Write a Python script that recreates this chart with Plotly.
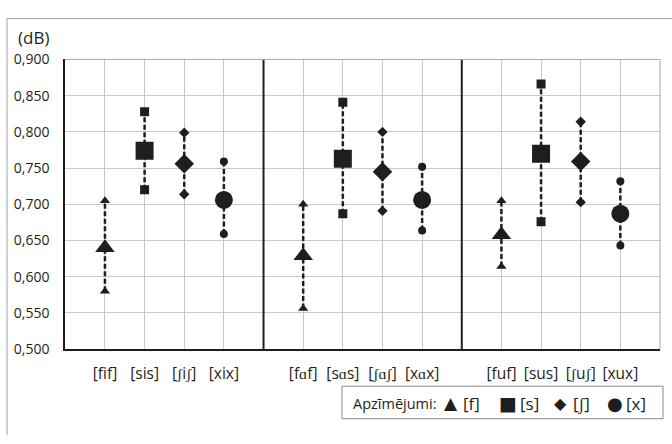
import plotly.graph_objects as go

# Figure size (px) and pixel layout helpers
W, H = 672, 444
PLOT_L, PLOT_R, PLOT_T, PLOT_B = 65.3, 660.0, 51.7, 354.3


def px(x):
    return x / W


def py(y):
    return 1 - y / H


# ---- data -------------------------------------------------------------
vowels = ["i", "ɑ", "u"]
consonants = ["f", "s", "ʃ", "x"]
consonant_labels = ["[f]", "[s]", "[ʃ]", "[x]"]

# mean / upper / lower values per consonant, one value per vowel group
mean_f = [0.640, 0.629, 0.658]
high_f = [0.705, 0.700, 0.705]
low_f = [0.580, 0.556, 0.614]

mean_s = [0.774, 0.763, 0.770]
high_s = [0.828, 0.841, 0.866]
low_s = [0.720, 0.687, 0.676]

mean_sh = [0.756, 0.745, 0.759]
high_sh = [0.799, 0.800, 0.814]
low_sh = [0.714, 0.691, 0.703]

mean_x = [0.706, 0.706, 0.687]
high_x = [0.759, 0.752, 0.732]
low_x = [0.659, 0.664, 0.643]

y_ticks = [0.50, 0.55, 0.60, 0.65, 0.70, 0.75, 0.80, 0.85, 0.90]

means = [mean_f, mean_s, mean_sh, mean_x]
highs = [high_f, high_s, high_sh, high_x]
lows = [low_f, low_s, low_sh, low_x]

symbols = ["triangle-up", "square", "diamond", "circle"]
big_sizes = [17, 18, 15, 18]
small_sizes = [9, 9, 8, 8]

INK = "#1e1e1e"
GRID = "#c9c9c9"
FONT = "Open Sans"

# x position of a consonant inside a vowel group: groups span 5 units
def xpos(g, k):
    return 5 * g + k + 1


fig = go.Figure()

tick_x, tick_text = [], []
for g, v in enumerate(vowels):
    for k, c in enumerate(consonants):
        tick_x.append(xpos(g, k))
        tick_text.append(f"[{c}{v}{c}]")

for k in range(4):
    xs_line, ys_line = [], []
    xs_end, ys_end = [], []
    xs_mid = []
    for g in range(3):
        x = xpos(g, k)
        xs_line += [x, x, None]
        ys_line += [lows[k][g], highs[k][g], None]
        xs_end += [x, x]
        ys_end += [lows[k][g], highs[k][g]]
        xs_mid.append(x)
    fig.add_trace(go.Scatter(
        x=xs_line, y=ys_line, mode="lines",
        line=dict(color=INK, width=2.5, dash="5px,2.5px"),
        showlegend=False, hoverinfo="skip"))
    fig.add_trace(go.Scatter(
        x=xs_end, y=ys_end, mode="markers",
        marker=dict(symbol=symbols[k], size=small_sizes[k], color=INK,
                    line=dict(width=0)),
        showlegend=False))
    fig.add_trace(go.Scatter(
        x=xs_mid, y=means[k], mode="markers", name=consonant_labels[k],
        marker=dict(symbol=symbols[k], size=big_sizes[k], color=INK,
                    line=dict(width=0)),
        showlegend=False))

shapes = []
# group dividers
for xd in [5, 10]:
    shapes.append(dict(type="line", xref="x", yref="y domain", x0=xd, x1=xd,
                       y0=0, y1=1, line=dict(color=INK, width=2)))
# top and right edges of the plot area
shapes.append(dict(type="line", xref="x domain", yref="y domain", x0=0, x1=1,
                   y0=1, y1=1, line=dict(color="#a8a8a8", width=1)))
shapes.append(dict(type="line", xref="x domain", yref="y domain", x0=1, x1=1,
                   y0=0, y1=1, line=dict(color="#a8a8a8", width=1)))
# outer chart frame (top and left)
shapes.append(dict(type="line", xref="paper", yref="paper", x0=px(7), x1=1,
                   y0=py(9), y1=py(9), line=dict(color="#a0a0a0", width=1)))
shapes.append(dict(type="line", xref="paper", yref="paper", x0=px(7), x1=px(7),
                   y0=py(9), y1=0, line=dict(color="#a0a0a0", width=1)))
# legend box
shapes.append(dict(type="rect", xref="paper", yref="paper",
                   x0=px(342), x1=px(663), y0=py(427), y1=py(393),
                   line=dict(color="#8a8a8a", width=1), fillcolor="white"))

annotations = [
    dict(text="(dB)", xref="paper", yref="paper", x=px(16), y=py(29),
         xanchor="left", yanchor="middle", showarrow=False,
         font=dict(family=FONT, size=17, color=INK)),
    dict(text="Apzīmējumi:", xref="paper", yref="paper", x=px(351), y=py(411),
         xanchor="left", yanchor="middle", showarrow=False,
         font=dict(family=FONT, size=14.5, color=INK)),
]
glyphs = ["▲", "■", "◆", "●"]
glyph_x = [451, 508, 560, 614.5]
glyph_sizes = [17, 19, 16, 18]
label_x = [461, 518, 571, 624]
for k in range(4):
    annotations.append(dict(text=glyphs[k], xref="paper", yref="paper",
                            x=px(glyph_x[k]), y=py(411), xanchor="center",
                            yanchor="middle", showarrow=False,
                            font=dict(family="DejaVu Sans", size=glyph_sizes[k],
                                      color=INK)))
    annotations.append(dict(text=consonant_labels[k], xref="paper", yref="paper",
                            x=px(label_x[k]), y=py(411), xanchor="left",
                            yanchor="middle", showarrow=False,
                            font=dict(family=FONT, size=17, color=INK)))

fig.update_layout(
    width=W, height=H, autosize=False,
    margin=dict(l=0, r=0, t=0, b=0, pad=0),
    paper_bgcolor="white", plot_bgcolor="white",
    separators=", ",
    font=dict(family=FONT, size=14, color=INK),
    showlegend=False,
    shapes=shapes,
    annotations=annotations,
    xaxis=dict(domain=[px(PLOT_L), px(PLOT_R)], range=[0, 15],
               tickvals=tick_x, ticktext=tick_text, showgrid=True,
               gridcolor=GRID, gridwidth=1, zeroline=False,
               showline=True, linecolor=INK, linewidth=2,
               ticks="", ticklabelstandoff=9,
               tickfont=dict(family=FONT, size=15.5, color=INK)),
    yaxis=dict(domain=[py(PLOT_B), py(PLOT_T)], range=[0.5, 0.9],
               tickvals=y_ticks, tickformat=".3f", showgrid=True,
               gridcolor=GRID, gridwidth=1, zeroline=False,
               showline=True, linecolor=INK, linewidth=2,
               ticks="", ticklabelstandoff=11,
               tickfont=dict(family=FONT, size=14, color=INK)),
)

fig.write_html("out.html")
